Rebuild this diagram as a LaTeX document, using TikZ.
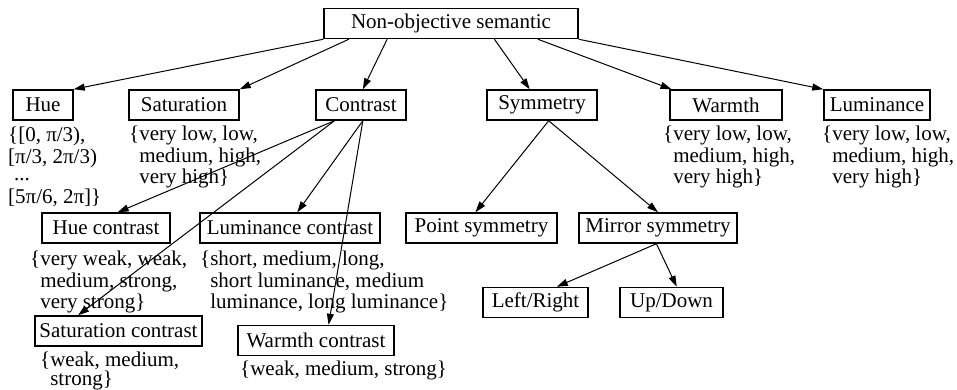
\documentclass[tikz,border=0pt]{standalone}
\usepackage{fontspec}
\setmainfont{Liberation Serif}
\usetikzlibrary{arrows.meta,calc}

\tikzset{
  box/.style={draw, line width=1.5pt, minimum height=30pt, inner sep=0pt},
  vals/.style={align=left, anchor=north west, inner sep=0pt},
  link/.style={line width=1pt, -{Triangle[length=11pt,width=7pt]}},
}

\begin{document}
\begin{tikzpicture}[x=1pt, y=-1pt, font=\fontsize{21}{21.5}\selectfont]
        \useasboundingbox (0,0) rectangle (957,389);

        % top level
        \node[box, minimum width=254pt] (root) at (451,23.5) {Non-objective semantic};
        \node[box, minimum width=60pt] (hue) at (43,105) {Hue};
        \node[box, minimum width=110pt] (sat) at (184,105) {Saturation};
        \node[box, minimum width=90pt] (con) at (361,105) {Contrast};
        \node[box, minimum width=110pt] (sym) at (542,105) {Symmetry};
        \node[box, minimum width=112pt] (warm) at (726,105) {Warmth};
        \node[box, minimum width=106pt] (lum) at (877,105) {Luminance};

        % second level
        \node[box, minimum width=128pt] (huec) at (106,228) {Hue contrast};
        \node[box, minimum width=180pt] (lumc) at (290,228) {Luminance contrast};
        \node[box, minimum width=167pt] (satc) at (118.5,331) {Saturation contrast};
        \node[box, minimum width=156pt] (warmc) at (316,340.5) {Warmth contrast};
        \node[box, minimum width=151pt] (psym) at (481.5,228) {Point symmetry};
        \node[box, minimum width=158pt] (msym) at (658,228) {Mirror symmetry};
        \node[box, minimum width=105pt] (lr) at (535.5,302.5) {Left/Right};
        \node[box, minimum width=103pt] (ud) at (671.5,302.5) {Up/Down};

        % value sets
        \node[vals] (hueval) at (8,127) {\{[0, π/3),\\ {}[π/3, 2π/3)\\[-4pt] \hspace{6pt}...\\[1pt] {}[5π/6, 2π]\}};
        \node[vals] (satval) at (129,126) {\{very low, low,\\ \hphantom{\{}medium, high,\\ \hphantom{\{}very high\}};
        \node[vals] (warmval) at (663,126) {\{very low, low,\\ \hphantom{\{}medium, high,\\ \hphantom{\{}very high\}};
        \node[vals] (lumval) at (822,126) {\{very low, low,\\ \hphantom{\{}medium, high,\\ \hphantom{\{}very high\}};
        \node[vals] (huecval) at (30,251) {\{very weak, weak,\\ \hphantom{\{}medium, strong,\\ \hphantom{\{}very strong\}};
        \node[vals] (lumcval) at (200,251) {\{short, medium, long,\\ \hphantom{\{}short luminance, medium\\ \hphantom{\{}luminance, long luminance\}};
        \node[vals] (satcval) at (40,352) {\{weak, medium,\\[-3pt] \hphantom{\{}strong\}};
        \node[vals] (warmcval) at (240,361) {\{weak, medium, strong\}};

        \draw[link] (root.south west) -- (hue.north east);
        \draw[link] ($(root.south west)!0.1!(root.south east)$) -- (sat.north east);
        \draw[link] ($(root.south west)!0.25!(root.south east)$) -- ($(con.north west)!0.52!(con.north east)$);
        \draw[link] ($(root.south west)!0.67!(root.south east)$) -- ($(sym.north west)!0.39!(sym.north east)$);
        \draw[link] ($(root.south west)!0.84!(root.south east)$) -- ($(warm.north west)!0.02!(warm.north east)$);
        \draw[link] (root.south east) -- (lum.north west);

        \draw[link] ($(con.south west)!0.21!(con.south east)$) -- ($(huec.north west)!0.59!(huec.north east)$);
        \draw[link] ($(con.south west)!0.21!(con.south east)$) -- ($(satc.north west)!0.26!(satc.north east)$);
        \draw[link] ($(con.south west)!0.52!(con.south east)$) -- ($(lumc.north west)!0.54!(lumc.north east)$);
        \draw[link] ($(con.south west)!0.52!(con.south east)$) -- ($(warmc.north west)!0.58!(warmc.north east)$);

        \draw[link] ($(sym.south west)!0.56!(sym.south east)$) -- ($(psym.north west)!0.46!(psym.north east)$);
        \draw[link] ($(sym.south west)!0.56!(sym.south east)$) -- ($(msym.north west)!0.5!(msym.north east)$);
        \draw[link] ($(msym.south west)!0.49!(msym.south east)$) -- ($(lr.north west)!0.7!(lr.north east)$);
        \draw[link] ($(msym.south west)!0.49!(msym.south east)$) -- ($(ud.north west)!0.55!(ud.north east)$);

    \end{tikzpicture}
\end{document}
